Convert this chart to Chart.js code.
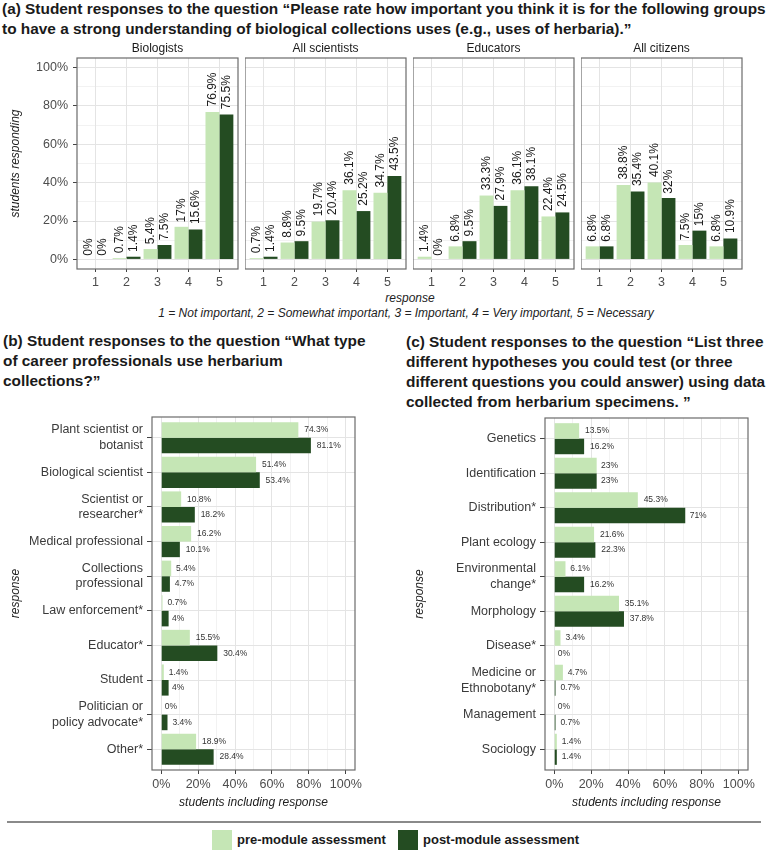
<!DOCTYPE html>
<html>
<head>
<meta charset="utf-8">
<script src="https://cdn.jsdelivr.net/npm/chart.js@4.4.1/dist/chart.umd.min.js"></script>
<style>
  body { margin: 0; background: #fff; width: 768px; height: 850px; position: relative; overflow: hidden;
         font-family: "Liberation Sans", Arial, sans-serif; color: #1a1a1a; }
  .abs { position: absolute; white-space: nowrap; }
  .title { font-weight: bold; font-size: 15.4px; line-height: 20px; }
  .axt { font-style: italic; font-size: 12px; color: #222; transform: translateX(-50%); }
  .sw { position: absolute; width: 20px; height: 20px; }
  .lg { font-weight: bold; font-size: 13px; line-height: 20px; }
  canvas { position: absolute; }
</style>
</head>
<body>

<div class="abs title" style="left:2px; top:-1px">(a) Student responses to the question “Please rate how important you think it is for the following groups<br>to have a strong understanding of biological collections uses (e.g., uses of herbaria).”</div>

<canvas id="fa1" width="240" height="251" style="left:0px; top:40px"></canvas>
<canvas id="fa2" width="163" height="251" style="left:245px; top:40px"></canvas>
<canvas id="fa3" width="163" height="251" style="left:413px; top:40px"></canvas>
<canvas id="fa4" width="163" height="251" style="left:581px; top:40px"></canvas>

<div class="abs axt" style="left:410px; top:291px">response</div>
<div class="abs axt" style="left:406px; top:306px">1 = Not important, 2 = Somewhat important, 3 = Important, 4 = Very important, 5 = Necessary</div>

<div class="abs title" style="left:3px; top:331px">(b) Student responses to the question “What type<br>of career professionals use herbarium<br>collections?”</div>
<div class="abs title" style="left:406px; top:332px">(c) Student responses to the question “List three<br>different hypotheses you could test (or three<br>different questions you could answer) using data<br>collected from herbarium specimens. ”</div>

<canvas id="cb" width="369" height="415" style="left:0px; top:397px"></canvas>
<canvas id="cc" width="362" height="414" style="left:400px; top:398px"></canvas>

<div class="abs" style="left:7px; top:821px; width:754px; height:2px; background:#8a8a8a"></div>

<div class="sw" style="left:212px; top:830px; background:#c5e6b5"></div>
<div class="abs lg" style="left:237px; top:830px">pre-module assessment</div>
<div class="sw" style="left:398px; top:830px; background:#244c22"></div>
<div class="abs lg" style="left:423px; top:830px">post-module assessment</div>

<script>
// (a) importance ratings, % of students per rating 1..5
const ratingLabels = ['1', '2', '3', '4', '5'];
const groupNames = ['Biologists', 'All scientists', 'Educators', 'All citizens'];
const biologistsPre  = [0, 0.7, 5.4, 17, 76.9];
const biologistsPost = [0, 1.4, 7.5, 15.6, 75.5];
const scientistsPre  = [0.7, 8.8, 19.7, 36.1, 34.7];
const scientistsPost = [1.4, 9.5, 20.4, 25.2, 43.5];
const educatorsPre   = [1.4, 6.8, 33.3, 36.1, 22.4];
const educatorsPost  = [0, 9.5, 27.9, 38.1, 24.5];
const citizensPre    = [6.8, 38.8, 40.1, 7.5, 6.8];
const citizensPost   = [6.8, 35.4, 32, 15, 10.9];

// (b) career professionals
const careerLabels = [
  ['Plant scientist or', 'botanist'], 'Biological scientist', ['Scientist or', 'researcher*'],
  'Medical professional', ['Collections', 'professional'], 'Law enforcement*', 'Educator*',
  'Student', ['Politician or', 'policy advocate*'], 'Other*'
];
const careerPre  = [74.3, 51.4, 10.8, 16.2, 5.4, 0.7, 15.5, 1.4, 0, 18.9];
const careerPost = [81.1, 53.4, 18.2, 10.1, 4.7, 4, 30.4, 4, 3.4, 28.4];

// (c) hypotheses
const hypoLabels = [
  'Genetics', 'Identification', 'Distribution*', 'Plant ecology', ['Environmental', 'change*'],
  'Morphology', 'Disease*', ['Medicine or', 'Ethnobotany*'], 'Management', 'Sociology'
];
const hypoPre  = [13.5, 23, 45.3, 21.6, 6.1, 35.1, 3.4, 4.7, 0, 1.4];
const hypoPost = [16.2, 23, 71, 22.3, 16.2, 37.8, 0, 0.7, 0.7, 1.4];

const percentTicks = [0, 20, 40, 60, 80, 100];
const gridTicks = [0, 10, 20, 30, 40, 50, 60, 70, 80, 90, 100];

const PRE = '#c5e6b5';
const POST = '#244c22';
const GRID = '#e4e4e4';
const TICK = '#444';
const FONT = '"Liberation Sans", Arial, sans-serif';

Chart.defaults.font.family = FONT;
Chart.defaults.animation = false;

const panelDecor = {
  id: 'panelDecor',
  afterDatasetsDraw(chart, args, opts) {
    const { ctx, chartArea: a } = chart;
    ctx.save();
    ctx.strokeStyle = '#6b6b6b';
    ctx.lineWidth = 1.2;
    ctx.strokeRect(a.left, a.top, a.right - a.left, a.bottom - a.top);

    if (opts.strip) {
      ctx.fillStyle = '#1a1a1a';
      ctx.font = '12px ' + FONT;
      ctx.textAlign = 'center';
      ctx.textBaseline = 'middle';
      ctx.fillText(opts.strip, (a.left + a.right) / 2, a.top - 9);
    }

    const horiz = chart.options.indexAxis === 'y';
    ctx.fillStyle = horiz ? '#333' : '#1a1a1a';
    ctx.font = (horiz ? '8.5px ' : '12px ') + FONT;
    ctx.textAlign = 'left';
    ctx.textBaseline = 'middle';
    chart.data.datasets.forEach((ds, di) => {
      chart.getDatasetMeta(di).data.forEach((bar, i) => {
        const v = horiz ? ds.data[i].x : ds.data[i].y;
        const txt = v + '%';
        const w = ctx.measureText(txt).width;
        if (horiz) {
          ctx.fillText(txt, bar.x + 0.2 * w + 1, bar.y);
        } else {
          ctx.save();
          ctx.translate(bar.x, bar.y - (0.1 * w + 2));
          ctx.rotate(-Math.PI / 2);
          ctx.fillText(txt, 0, 0);
          ctx.restore();
        }
      });
    });
    ctx.restore();
  }
};

function pctAxis(showLabels, size) {
  return {
    type: 'linear', min: -5, max: 105, offset: false,
    afterBuildTicks: s => { s.ticks = gridTicks.map(v => ({ value: v })); },
    afterFit: size,
    border: { display: false },
    grid: {
      offset: false,
      color: GRID,
      lineWidth: c => (c.tick && percentTicks.includes(c.tick.value)) ? 1 : 0.5,
      drawTicks: showLabels,
      tickLength: 4,
      tickColor: c => (c.tick && percentTicks.includes(c.tick.value)) ? TICK : 'rgba(0,0,0,0)'
    },
    ticks: {
      display: showLabels, autoSkip: false, maxRotation: 0, padding: 5,
      color: '#4d4d4d', font: { size: 12.5 },
      callback: v => percentTicks.includes(v) ? v + '%' : ''
    }
  };
}

function indexAxis(labels, tickLen, pad, size, reverse) {
  return {
    type: 'linear', min: 0.4, max: labels.length + 0.6, offset: false, reverse: !!reverse,
    afterBuildTicks: s => { s.ticks = labels.map((_, i) => ({ value: i + 1 })); },
    afterFit: size,
    border: { display: false },
    grid: { offset: false, color: GRID, lineWidth: 1, drawTicks: true, tickLength: tickLen, tickColor: TICK },
    ticks: {
      autoSkip: false, maxRotation: 0, minRotation: 0, padding: pad,
      color: '#3a3a3a', font: { size: 12.5, lineHeight: 1.25 },
      callback: v => labels[v - 1]
    }
  };
}

const facetData = [
  [biologistsPre, biologistsPost],
  [scientistsPre, scientistsPost],
  [educatorsPre, educatorsPost],
  [citizensPre, citizensPost]
];

facetData.forEach((pair, f) => {
  const first = f === 0;
  const yAxis = pctAxis(first, s => { s.width = first ? 77 : 0; });
  if (first) {
    yAxis.title = { display: true, text: 'students responding', color: '#222',
                    font: { size: 12, style: 'italic' }, padding: { top: 8, bottom: 0 } };
  }
  const xAxis = indexAxis(ratingLabels, 3, 3, s => { s.height = 22; });
  xAxis.ticks.color = '#4d4d4d';

  new Chart(document.getElementById('fa' + (f + 1)), {
    type: 'bar',
    data: {
      datasets: [
        { label: 'pre-module assessment', backgroundColor: PRE,
          data: pair[0].map((v, i) => ({ x: i + 1, y: v })) },
        { label: 'post-module assessment', backgroundColor: POST,
          data: pair[1].map((v, i) => ({ x: i + 1, y: v })) }
      ]
    },
    options: {
      responsive: false,
      categoryPercentage: 0.9, barPercentage: 1,
      layout: { padding: { top: 18, right: 2, bottom: 0, left: 0 } },
      scales: { x: xAxis, y: yAxis },
      plugins: { legend: { display: false }, tooltip: { enabled: false },
                 panelDecor: { strip: groupNames[f] } }
    },
    plugins: [panelDecor]
  });
});

function hbarChart(id, labels, pre, post, yWidth, titlePad) {
  const yAxis = indexAxis(labels, 5, 4, s => { s.width = yWidth; }, true);
  yAxis.title = { display: true, text: 'response', color: '#222',
                  font: { size: 12, style: 'italic' }, padding: { top: titlePad, bottom: 0 } };
  const xAxis = pctAxis(true, s => { s.height = 42; });
  xAxis.ticks.padding = 3;
  xAxis.title = { display: true, text: 'students including response', color: '#222',
                  font: { size: 12, style: 'italic' }, padding: { top: 0, bottom: 2 } };

  new Chart(document.getElementById(id), {
    type: 'bar',
    data: {
      datasets: [
        { label: 'pre-module assessment', backgroundColor: PRE,
          data: pre.map((v, i) => ({ x: v, y: i + 1 })) },
        { label: 'post-module assessment', backgroundColor: POST,
          data: post.map((v, i) => ({ x: v, y: i + 1 })) }
      ]
    },
    options: {
      responsive: false,
      indexAxis: 'y',
      categoryPercentage: 0.9, barPercentage: 1,
      layout: { padding: { top: 20, right: 14, bottom: 0, left: 0 } },
      scales: { x: xAxis, y: yAxis },
      plugins: { legend: { display: false }, tooltip: { enabled: false }, panelDecor: {} }
    },
    plugins: [panelDecor]
  });
}

hbarChart('cb', careerLabels, careerPre, careerPost, 152, 8);
hbarChart('cc', hypoLabels, hypoPre, hypoPost, 145, 12.8);
</script>
</body>
</html>
